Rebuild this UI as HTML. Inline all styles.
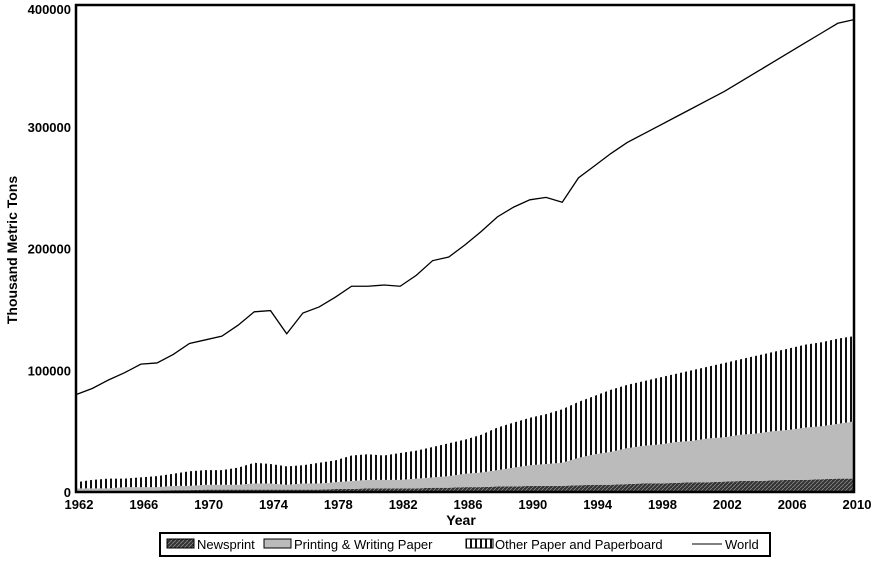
<!DOCTYPE html>
<html><head><meta charset="utf-8"><style>
body{margin:0;background:#fff;}
svg{display:block;font-family:"Liberation Sans",Arial,sans-serif;}
</style></head><body>
<svg id="chart" width="877" height="565" viewBox="0 0 877 565">
<defs>
<pattern id="hatch" patternUnits="userSpaceOnUse" width="4" height="4"><rect width="4" height="4" fill="#333"/><path d="M0,4 L4,0" stroke="#888" stroke-width="0.8"/></pattern>
<pattern id="vert" patternUnits="userSpaceOnUse" width="5" height="5"><rect width="5" height="5" fill="#fff"/><rect width="2" height="5" fill="#111"/></pattern>
</defs>
<g id="plot"></g>
<text transform="translate(17,250) rotate(-90)" text-anchor="middle" font-size="14" font-weight="bold">Thousand Metric Tons</text>
<text x="461" y="525" text-anchor="middle" font-size="14" font-weight="bold">Year</text>
<g>
<rect x="160" y="533" width="610" height="23" fill="#fff" stroke="#000" stroke-width="2"/>
<rect x="167" y="539" width="27" height="9" fill="url(#hatch)" stroke="#000"/>
<text x="197" y="549" font-size="13">Newsprint</text>
<rect x="264" y="539" width="27" height="9" fill="#bbb" stroke="#000"/>
<text x="294" y="549" font-size="13">Printing &amp; Writing Paper</text>
<rect x="466" y="539" width="27" height="9" fill="url(#vert)" stroke="#000"/>
<text x="495" y="549" font-size="13">Other Paper and Paperboard</text>
<line x1="692" y1="544" x2="722" y2="544" stroke="#000"/>
<text x="725" y="549" font-size="13">World</text>
</g>
</svg>
<script>
const years=[1962,1963,1964,1965,1966,1967,1968,1969,1970,1971,1972,1973,1974,1975,1976,1977,1978,1979,1980,1981,1982,1983,1984,1985,1986,1987,1988,1989,1990,1991,1992,1993,1994,1995,1996,1997,1998,1999,2000,2001,2002,2003,2004,2005,2006,2007,2008,2009,2010];
const newsprint=[1,1,1,1,1,1,1.5,1.5,2,2,2,2,2,2,2,2,2.5,2.5,3,3,3,3,3.5,3.5,4,4,4.5,4.5,5,5,5,5.5,6,6,6.5,7,7,7.5,8,8,8.5,9,9,9.5,10,10,10.5,11,11];
const printing=[2,2,2,3,3,3,3.5,3.5,4,4,4,5,5,4,5,5,5.5,6.5,7,7,7,8,8.5,9.5,11,12,13.5,15.5,17,18,19,22.5,25,27,29.5,31,32,33.5,34,36,36.5,38,39,40.5,41,43,43.5,45,47];
const other=[5,7,8,7,8,9,10,12,12,12,14,17,16,15,15,17,18,21,21,20,22,23,25,27,28,31,35,37,39,41,44,46,48,51,52,53,55,56,58,59,61,62,64,65,67,68,69,70,70];
const world=[80,85,92,98,105,106,113,122,125,128,137,148,149,130,147,152,160,169,169,170,169,178,190,193,203,214,226,234,240,242,238,258,268,278,287,294,301,308,315,322,329,337,345,353,361,369,377,385,388];
const yTicks=[0,100000,200000,300000,400000];
const xTicks=[1962,1966,1970,1974,1978,1982,1986,1990,1994,1998,2002,2006,2010];
const L=76,R=854,T=5,B=492;
const x=y=>L+(y-1962)/(2010-1962)*(R-L);
const yv=v=>B-v*1000/400000*(B-T);
const yt=v=>B-v/400000*(B-T);
const ns="http://www.w3.org/2000/svg";
const g=document.getElementById('plot');
function mk(t,a){const e=document.createElementNS(ns,t);for(const k in a)e.setAttribute(k,a[k]);g.appendChild(e);return e;}
let base=years.map(()=>0);
function area(vals,fill,name){
  const top=vals.map((v,i)=>base[i]+v);
  let d='M'+years.map((yr,i)=>x(yr)+','+yv(top[i])).join('L');
  for(let i=years.length-1;i>=0;i--)d+='L'+x(years[i])+','+yv(base[i]);
  const p=mk('path',{d:d+'Z',fill:fill});
  
  
  base=top;
}
area(newsprint,'url(#hatch)','area-newsprint');
area(printing,'#bbb','area-printing-writing');
area(other,'url(#vert)','area-other-paper');
const wl=mk('polyline',{points:years.map((yr,i)=>x(yr)+','+yv(world[i])).join(' '),fill:'none',stroke:'#000','stroke-width':1.3});


const frame=mk('rect',{x:L,y:T,width:R-L,height:B-T,fill:'none',stroke:'#000','stroke-width':2.5});


yTicks.forEach(v=>{
  const t=mk('text',{x:L-5,y:Math.max(yt(v)+5,14),'text-anchor':'end','font-size':13,'font-weight':'bold'});
  t.textContent=v;
  
  
});
xTicks.forEach(v=>{
  const t=mk('text',{x:x(v)+3,y:509,'text-anchor':'middle','font-size':13,'font-weight':'bold'});
  t.textContent=v;
  
  
});
</script>
</body></html>
